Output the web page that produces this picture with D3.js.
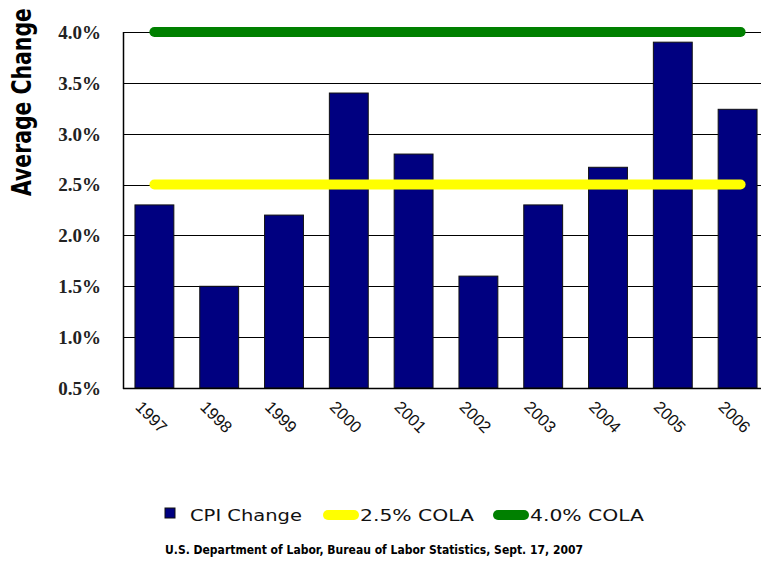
<!DOCTYPE html>
<html>
<head>
<meta charset="utf-8">
<script src="https://cdn.jsdelivr.net/npm/d3@7"></script>
<style>
  body { margin: 0; background: #fff; }
  svg { display: block; }
</style>
</head>
<body>
<div id="chart"></div>
<script>
const years = ['1997', '1998', '1999', '2000', '2001', '2002', '2003', '2004', '2005', '2006'];
const cpiChange = [2.3, 1.5, 2.2, 3.4, 2.8, 1.6, 2.3, 2.67, 3.9, 3.24];
const colaLevels = [2.5, 4.0];
const colaNames = ['2.5% COLA', '4.0% COLA'];
const yTicks = [0.5, 1.0, 1.5, 2.0, 2.5, 3.0, 3.5, 4.0];

const width = 761;
const height = 561;
const plot = { left: 123, right: 770, top: 32, bottom: 388 };

const svg = d3.select('#chart').append('svg')
    .attr('width', width)
    .attr('height', height);

const x = d3.scaleBand()
    .domain(years)
    .range([plot.left - 1, plot.right])
    .paddingInner(0.4)
    .paddingOuter(0.2);

const y = d3.scaleLinear()
    .domain([0.5, 4.0])
    .range([plot.bottom, plot.top]);

const fmt = d3.format('.1f');

// gridlines
svg.append('g').attr('class', 'grid')
    .selectAll('line').data(yTicks)
  .enter().append('line')
    .attr('x1', plot.left)
    .attr('x2', width)
    .attr('y1', d => Math.round(y(d)) + 0.5)
    .attr('y2', d => Math.round(y(d)) + 0.5)
    .attr('stroke', '#000')
    .attr('stroke-width', 1.2);

// y axis labels
svg.append('g').attr('class', 'y-labels')
    .selectAll('text').data(yTicks)
  .enter().append('text')
    .attr('x', 101)
    .attr('y', d => y(d))
    .attr('dy', '0.36em')
    .attr('text-anchor', 'end')
    .style('font-family', '"Liberation Serif", "Times New Roman", serif')
    .style('font-weight', 'bold')
    .style('font-size', '19px')
    .style('fill', '#222')
    .text(d => fmt(d) + '%');

// bars
svg.append('g').attr('class', 'bars')
    .selectAll('rect').data(years)
  .enter().append('rect')
    .attr('x', d => x(d))
    .attr('width', x.bandwidth())
    .attr('y', (d, i) => y(cpiChange[i]))
    .attr('height', (d, i) => y(0.5) - y(cpiChange[i]))
    .attr('fill', '#000080')
    .attr('stroke', '#111')
    .attr('stroke-width', 1);

// axes lines
svg.append('line')
    .attr('x1', plot.left + 0.5).attr('x2', plot.left + 0.5)
    .attr('y1', plot.top).attr('y2', plot.bottom + 1)
    .attr('stroke', '#000').attr('stroke-width', 1.5);
svg.append('line')
    .attr('x1', plot.left).attr('x2', width)
    .attr('y1', plot.bottom + 0.5).attr('y2', plot.bottom + 0.5)
    .attr('stroke', '#000').attr('stroke-width', 1.5);

// COLA lines
const colaColors = ['#ffff00', '#008000'];
const first = years[0];
const last = years[years.length - 1];
svg.append('g').attr('class', 'cola')
    .selectAll('line').data(colaLevels)
  .enter().append('line')
    .attr('x1', x(first) + x.bandwidth() / 2)
    .attr('x2', x(last) + x.bandwidth() / 2 + 3)
    .attr('y1', d => y(d))
    .attr('y2', d => y(d))
    .attr('stroke', (d, i) => colaColors[i])
    .attr('stroke-width', 10)
    .attr('stroke-linecap', 'round');

// x labels
svg.append('g').attr('class', 'x-labels')
    .selectAll('text').data(years)
  .enter().append('text')
    .attr('transform', d => `translate(${x(d) + x.bandwidth() / 2 - 20},${plot.bottom + 20}) rotate(45)`)
    .style('font-family', '"Liberation Sans", Arial, sans-serif')
    .style('font-size', '16.5px')
    .style('fill', '#111')
    .text(d => d);

// y title, squeezed to fit 190px like the narrow original font
const yTitle = svg.append('text')
    .style('font-family', '"Liberation Sans Narrow", "DejaVu Sans Condensed", sans-serif')
    .style('font-weight', 'bold')
    .style('font-size', '26px')
    .style('fill', '#000')
    .text('Average Change');
const titleLen = yTitle.node().getComputedTextLength();
yTitle.attr('transform', `translate(31,196) rotate(-90) scale(${188 / titleLen},1)`);

// legend
const legend = svg.append('g').attr('class', 'legend')
    .style('font-family', '"DejaVu Sans", Verdana, sans-serif')
    .style('font-size', '15px')
    .style('fill', '#111');

legend.append('rect')
    .attr('x', 165).attr('y', 508)
    .attr('width', 10).attr('height', 10)
    .attr('fill', '#000080')
    .attr('stroke', '#111');
legend.append('text')
    .attr('x', 190).attr('y', 521)
    .attr('textLength', 112)
    .attr('lengthAdjust', 'spacingAndGlyphs')
    .text('CPI Change');

const legendX = [328, 498];
colaNames.forEach((name, i) => {
  legend.append('line')
      .attr('x1', legendX[i]).attr('x2', legendX[i] + 26)
      .attr('y1', 515).attr('y2', 515)
      .attr('stroke', colaColors[i])
      .attr('stroke-width', 10)
      .attr('stroke-linecap', 'round');
  legend.append('text')
      .attr('x', legendX[i] + 32).attr('y', 521)
      .attr('textLength', 114)
      .attr('lengthAdjust', 'spacingAndGlyphs')
      .text(name);
});

// source
svg.append('text')
    .attr('x', 165).attr('y', 554)
    .attr('textLength', 418)
    .attr('lengthAdjust', 'spacingAndGlyphs')
    .style('font-family', '"Liberation Sans Narrow", "DejaVu Sans Condensed", sans-serif')
    .style('font-weight', 'bold')
    .style('font-size', '12px')
    .style('fill', '#000')
    .text('U.S. Department of Labor, Bureau of Labor Statistics, Sept. 17, 2007');
</script>
</body>
</html>
